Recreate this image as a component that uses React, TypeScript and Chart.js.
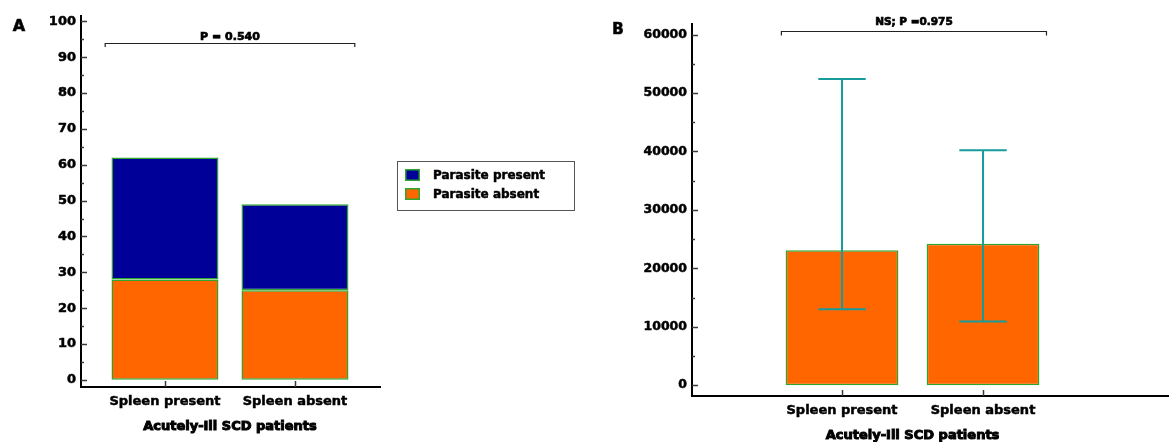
import { useEffect, useRef } from 'react';
import { Chart, registerables } from 'chart.js';

Chart.register(...registerables);

// ---- data ----
const categories = ['Spleen present', 'Spleen absent'];
const categoryIndex = [0, 1];

// Panel A: number of patients, stacked
const parasiteAbsent = [28, 25];
const parasitePresent = [34, 24];
const yTicksA = [0, 10, 20, 30, 40, 50, 60, 70, 80, 90, 100];
const pLabelA = 'P = 0.540';

// Panel B: mean count with range
const meanCount = [23100, 24200];
const rangeLow = [13000, 10900];
const rangeHigh = [52400, 40200];
const yTicksB = [0, 10000, 20000, 30000, 40000, 50000, 60000];
const pLabelB = 'NS; P =0.975';

const groupTitle = 'Acutely-Ill SCD patients';

// ---- style ----
const FONT = "'DejaVu Sans', 'Liberation Sans', sans-serif";
const ORANGE = '#ff6600';
const NAVY = '#000099';
const EDGE = '#2ea52e';
const TEAL = '#169c9c';
const INK = '#000000';

function heavyText(ctx: any, text: string, x: number, y: number, stroke: number) {
  ctx.fillText(text, x, y);
  ctx.lineWidth = stroke;
  ctx.strokeStyle = INK;
  ctx.strokeText(text, x, y);
}

const panelDecor = {
  id: 'panelDecor',
  afterDatasetsDraw(chart: any, _args: any, opts: any) {
    if (!opts.errors) return;
    const { ctx } = chart;
    const y = chart.scales.y;
    const meta = chart.getDatasetMeta(0);
    ctx.save();
    ctx.strokeStyle = TEAL;
    ctx.lineWidth = 2;
    meta.data.forEach((bar: any, i: number) => {
      const cx = bar.x;
      const half = bar.width * 0.21;
      const top = y.getPixelForValue(opts.errors.high[i]);
      const bot = y.getPixelForValue(opts.errors.low[i]);
      ctx.beginPath();
      ctx.moveTo(cx, top);
      ctx.lineTo(cx, bot);
      ctx.moveTo(cx - half, top);
      ctx.lineTo(cx + half, top);
      ctx.moveTo(cx - half, bot);
      ctx.lineTo(cx + half, bot);
      ctx.stroke();
    });
    ctx.restore();
  },
  afterDraw(chart: any, _args: any, opts: any) {
    const { ctx, chartArea } = chart;
    const x = chart.scales.x;
    const y = chart.scales.y;
    ctx.save();

    // inward tick marks
    ctx.strokeStyle = '#3a3a3a';
    ctx.lineWidth = 1.5;
    const yt = y.ticks;
    yt.forEach((t: any, i: number) => {
      const py = Math.round(y.getPixelForValue(t.value)) + 0.5;
      ctx.beginPath();
      ctx.moveTo(chartArea.left, py);
      ctx.lineTo(chartArea.left + 6, py);
      ctx.stroke();
      if (i < yt.length - 1) {
        const mid = (t.value + yt[i + 1].value) / 2;
        const pm = Math.round(y.getPixelForValue(mid)) + 0.5;
        ctx.beginPath();
        ctx.moveTo(chartArea.left, pm);
        ctx.lineTo(chartArea.left + 3, pm);
        ctx.stroke();
      }
    });
    x.ticks.forEach((t: any) => {
      const px = Math.round(x.getPixelForValue(t.value)) + 0.5;
      ctx.beginPath();
      ctx.moveTo(px, chartArea.bottom);
      ctx.lineTo(px, chartArea.bottom - 6);
      ctx.stroke();
    });

    // panel letter
    ctx.fillStyle = INK;
    ctx.textAlign = 'center';
    ctx.textBaseline = 'middle';
    ctx.font = `bold ${opts.letter.size}px ${FONT}`;
    heavyText(ctx, opts.letter.text, opts.letter.x, opts.letter.y, 0.6);

    // significance bracket
    const b = opts.bracket;
    const bx1 = x.getPixelForValue(b.from);
    const bx2 = x.getPixelForValue(b.to);
    const by = Math.round(y.getPixelForValue(b.at)) + 0.5;
    ctx.strokeStyle = '#222';
    ctx.lineWidth = 1.2;
    ctx.beginPath();
    ctx.moveTo(bx1, by + b.drop);
    ctx.lineTo(bx1, by);
    ctx.lineTo(bx2, by);
    ctx.lineTo(bx2, by + b.drop);
    ctx.stroke();
    ctx.font = `bold ${b.size}px ${FONT}`;
    heavyText(ctx, b.label, (bx1 + bx2) / 2, by - b.gap, 0.7);

    // group title under the axis
    const c0 = x.getPixelForValue(categoryIndex[0]);
    const c1 = x.getPixelForValue(categoryIndex[categoryIndex.length - 1]);
    ctx.font = `bold 13px ${FONT}`;
    heavyText(ctx, groupTitle, (c0 + c1) / 2, chartArea.bottom + opts.titleOffset, 1);

    // legend box
    if (opts.legend) {
      const L = opts.legend;
      ctx.strokeStyle = '#555';
      ctx.lineWidth = 1;
      ctx.strokeRect(L.x + 0.5, L.y + 0.5, L.w, L.h);
      const items = [...chart.data.datasets].reverse();
      ctx.font = `bold 12px ${FONT}`;
      ctx.textAlign = 'left';
      items.forEach((ds: any, i: number) => {
        const sy = L.y + 8 + i * 19;
        ctx.fillStyle = ds.backgroundColor;
        ctx.fillRect(L.x + 8, sy, 15, 12);
        ctx.strokeStyle = EDGE;
        ctx.lineWidth = 1.5;
        ctx.strokeRect(L.x + 8.75, sy + 0.75, 13.5, 10.5);
        ctx.fillStyle = INK;
        heavyText(ctx, ds.label, L.x + 36, sy + 6.5, 0.5);
      });
    }
    ctx.restore();
  },
};

function makeOptions(cfg: any) {
  return {
    responsive: false,
    animation: false,
    events: [],
    layout: { padding: cfg.padding },
    plugins: {
      legend: { display: false },
      tooltip: { enabled: false },
      panelDecor: cfg.decor,
    },
    scales: {
      x: {
        type: 'linear',
        stacked: true,
        offset: false,
        min: cfg.xMin,
        max: cfg.xMax,
        afterBuildTicks: (s: any) => {
          s.ticks = categoryIndex.map((v) => ({ value: v }));
        },
        afterFit: (s: any) => {
          s.height = cfg.xHeight;
        },
        grid: { display: false, drawTicks: false },
        border: { display: true, color: INK, width: 2 },
        ticks: {
          autoSkip: false,
          maxRotation: 0,
          padding: 7,
          color: INK,
          textStrokeColor: INK,
          textStrokeWidth: 0.5,
          font: { family: FONT, size: 13, weight: 'bold' },
          callback: (v: any) => categories[v] ?? '',
        },
      },
      y: {
        type: 'linear',
        stacked: cfg.stacked,
        min: cfg.yMin,
        max: cfg.yMax,
        afterBuildTicks: (s: any) => {
          s.ticks = cfg.yTicks.map((v: number) => ({ value: v }));
        },
        afterFit: (s: any) => {
          s.width = cfg.yWidth;
        },
        grid: { display: false, drawTicks: false },
        border: { display: true, color: INK, width: 2 },
        ticks: {
          padding: 5,
          color: INK,
          textStrokeColor: INK,
          textStrokeWidth: 0.5,
          font: { family: FONT, size: cfg.yFont, weight: 'bold' },
          callback: (v: any) => String(v),
        },
      },
    },
  };
}

export default function App() {
  const refA = useRef<HTMLCanvasElement>(null);
  const refB = useRef<HTMLCanvasElement>(null);

  useEffect(() => {
    const barStyle = {
      borderColor: EDGE,
      borderWidth: 1.5,
      borderSkipped: false,
      categoryPercentage: 1,
    };

    const chartA = new Chart(refA.current as HTMLCanvasElement, {
      type: 'bar',
      data: {
        datasets: [
          {
            label: 'Parasite absent',
            data: categoryIndex.map((x, i) => ({ x, y: parasiteAbsent[i] })),
            backgroundColor: ORANGE,
            barPercentage: 0.823,
            ...barStyle,
          },
          {
            label: 'Parasite present',
            data: categoryIndex.map((x, i) => ({ x, y: parasitePresent[i] })),
            backgroundColor: NAVY,
            barPercentage: 0.823,
            ...barStyle,
          },
        ],
      },
      options: makeOptions({
        padding: { left: 0, top: 16, right: 220, bottom: 0 },
        xMin: -0.646,
        xMax: 1.654,
        xHeight: 55,
        yMin: -2,
        yMax: 101.5,
        yTicks: yTicksA,
        yWidth: 81,
        yFont: 13,
        stacked: true,
        decor: {
          letter: { text: 'A', x: 19, y: 27, size: 16 },
          bracket: { from: -0.46, to: 1.46, at: 94, drop: 3.5, gap: 6.3, size: 11, label: pLabelA },
          titleOffset: 40,
          legend: { x: 397, y: 161, w: 177, h: 49 },
        },
      }) as any,
      plugins: [panelDecor],
    });

    const chartB = new Chart(refB.current as HTMLCanvasElement, {
      type: 'bar',
      data: {
        datasets: [
          {
            label: 'Mean',
            data: categoryIndex.map((x, i) => ({ x, y: meanCount[i] })),
            backgroundColor: ORANGE,
            barPercentage: 0.8,
            ...barStyle,
          },
        ],
      },
      options: makeOptions({
        padding: { left: 0, top: 24, right: 0, bottom: 0 },
        xMin: -1.064,
        xMax: 2.319,
        xHeight: 46,
        yMin: -1850,
        yMax: 61800,
        yTicks: yTicksB,
        yWidth: 92,
        yFont: 12.5,
        stacked: false,
        decor: {
          letter: { text: 'B', x: 18, y: 30.5, size: 15 },
          bracket: { from: -0.43, to: 1.45, at: 60600, drop: 4, gap: 9.3, size: 10.5, label: pLabelB },
          titleOffset: 40,
          errors: { low: rangeLow, high: rangeHigh },
        },
      }) as any,
      plugins: [panelDecor],
    });

    return () => {
      chartA.destroy();
      chartB.destroy();
    };
  }, []);

  return (
    <div
      style={{
        position: 'absolute',
        left: 0,
        top: 0,
        width: 1169,
        height: 442,
        background: '#ffffff',
        overflow: 'hidden',
      }}
    >
      <canvas
        ref={refA}
        width={600}
        height={442}
        style={{ position: 'absolute', left: 0, top: 0, width: 600, height: 442 }}
      />
      <canvas
        ref={refB}
        width={569}
        height={442}
        style={{ position: 'absolute', left: 600, top: 0, width: 569, height: 442 }}
      />
    </div>
  );
}
